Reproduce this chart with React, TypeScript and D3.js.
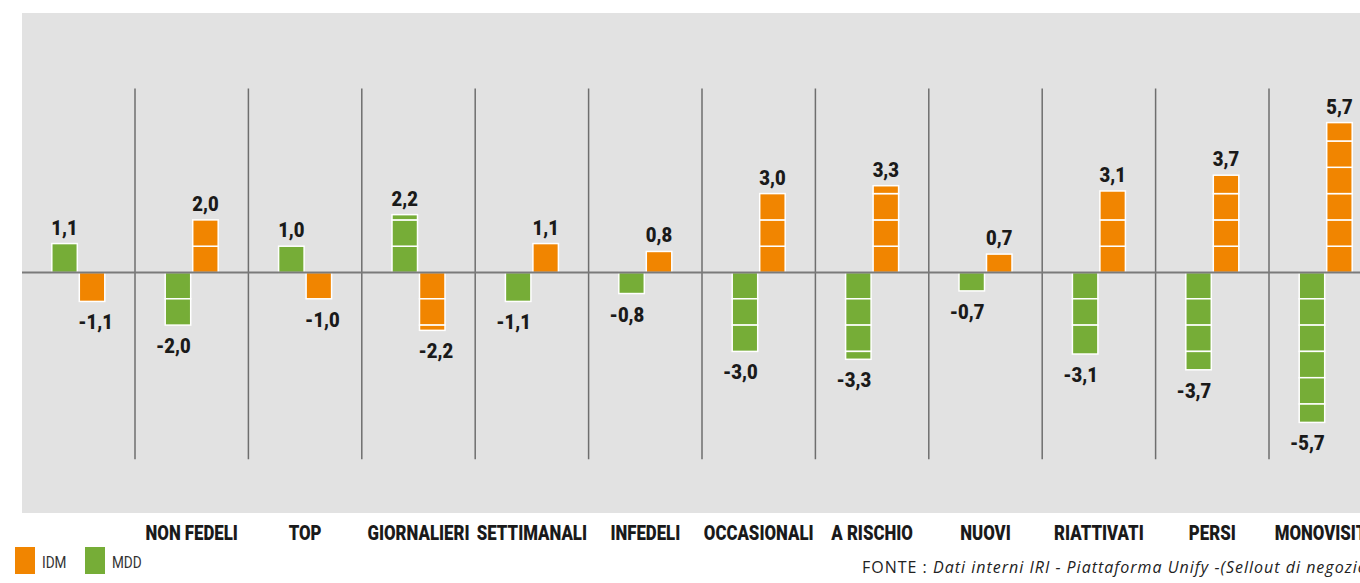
import React from "react";
import * as d3 from "d3";

const categories = ["", "NON FEDELI", "TOP", "GIORNALIERI", "SETTIMANALI", "INFEDELI", "OCCASIONALI", "A RISCHIO", "NUOVI", "RIATTIVATI", "PERSI", "MONOVISITA"];
const seriesNames = ["MDD", "IDM"];
const mddValues = [1.1, -2.0, 1.0, 2.2, -1.1, -0.8, -3.0, -3.3, -0.7, -3.1, -3.7, -5.7];
const idmValues = [-1.1, 2.0, -1.0, -2.2, 1.1, 0.8, 3.0, 3.3, 0.7, 3.1, 3.7, 5.7];
const legendItems = ["IDM", "MDD"];
const sourceLabel = "FONTE : ";
const sourceItalic = "Dati interni IRI - Piattaforma Unify -(Sellout di negozio)";

const W = 1360;
const H = 583;
const COLORS: Record<string, string> = { MDD: "#76ad37", IDM: "#f18500" };
const FONT = "Roboto, 'Noto Sans', sans-serif";
const fmt = (v: number) => (v < 0 ? "-" : "") + Math.abs(v).toFixed(1).replace(".", ",");

function CText(props: { x: number; y: number; sx: number; anchor: string; size: number; weight: number; fill: string; children: React.ReactNode }) {
  return (
    <g transform={`translate(${props.x},${props.y}) scale(${props.sx},1)`}>
      <text x={0} y={0} textAnchor={props.anchor} fontFamily={FONT} fontWeight={props.weight}
        fontSize={props.size} fill={props.fill}>{props.children}</text>
    </g>
  );
}

export default function App() {
  const panel = { x: 22, y: 13, w: W - 22, h: 500 };
  const x0 = d3.scaleBand<string>().domain(categories.map((c, i) => i + "")).range([21.6, 21.6 + 12 * 113.4]).paddingInner(0);
  const bw = x0.bandwidth();
  const x1 = d3.scaleBand<string>().domain(seriesNames).range([bw / 2 - 26.5, bw / 2 + 26.5]);
  const y = d3.scaleLinear().domain([-7, 7]).range([456.6, 88.4]);
  const y0 = y(0);

  const bars: React.ReactNode[] = [];
  const labels: React.ReactNode[] = [];
  categories.forEach((c, i) => {
    const gx = x0(i + "")!;
    seriesNames.forEach((s) => {
      const v = s === "MDD" ? mddValues[i] : idmValues[i];
      const bx = gx + x1(s)! + (s === "MDD" ? 0 : 1);
      const bwid = x1.bandwidth() - 1;
      const a = Math.abs(v);
      const sign = Math.sign(v);
      const edges: number[] = [0];
      for (let k = 1; k < a; k++) if (a - k >= 0.15) edges.push(k);
      edges.push(a);
      for (let k = 0; k < edges.length - 1; k++) {
        const ya = y(sign * edges[k]);
        const yb = y(sign * edges[k + 1]);
        bars.push(
          <rect key={`${i}-${s}-${k}`} x={bx} y={Math.min(ya, yb)} width={bwid} height={Math.abs(yb - ya)}
            fill={COLORS[s]} stroke="#ffffff" strokeWidth={1.5} />
        );
      }
      const tip = y(v);
      if (v >= 0) {
        labels.push(
          <CText key={`l${i}${s}`} x={bx + bwid / 2} y={tip - 9} sx={0.88} anchor="middle" size={21} weight={900} fill="#1a1a1a">{fmt(v)}</CText>
        );
      } else {
        labels.push(
          <CText key={`l${i}${s}`} x={s === "MDD" ? bx + bwid : bx - 1} y={tip + 28} sx={0.88}
            anchor={s === "MDD" ? "end" : "start"} size={21} weight={900} fill="#1a1a1a">{fmt(v)}</CText>
        );
      }
    });
  });

  return (
    <svg width={W} height={H} style={{ position: "absolute", left: 0, top: 0, background: "#fff" }}>
      <rect x={panel.x} y={panel.y} width={panel.w} height={panel.h} fill="#e2e2e2" />
      {categories.slice(1).map((c, i) => {
        const xx = x0(i + 1 + "")!;
        return <line key={"sep" + i} x1={xx} x2={xx} y1={y(7)} y2={y(-7.1)} stroke="#6e6e6e" strokeWidth={1.5} />;
      })}
      {bars}
      <line x1={panel.x} x2={W} y1={y0} y2={y0} stroke="#7a7a7a" strokeWidth={2} />
      {labels}
      {categories.map((c, i) => (
        <CText key={"c" + i} x={x0(i + "")! + bw / 2} y={540} sx={0.8} anchor="middle" size={21} weight={900} fill="#1a1a1a">{c}</CText>
      ))}
      {legendItems.map((s, i) => (
        <g key={"lg" + s} transform={`translate(${15 + i * 70},547)`}>
          <rect width={20} height={27} fill={COLORS[s]} />
          <CText x={27} y={21} sx={0.8} anchor="start" size={17} weight={400} fill="#333">{s}</CText>
        </g>
      ))}
      <text x={862} y={573} fontFamily="'Open Sans', Lato, sans-serif" fontSize={16} letterSpacing={1.0} fill="#222">
        {sourceLabel}<tspan fontStyle="italic">{sourceItalic}</tspan>
      </text>
    </svg>
  );
}
